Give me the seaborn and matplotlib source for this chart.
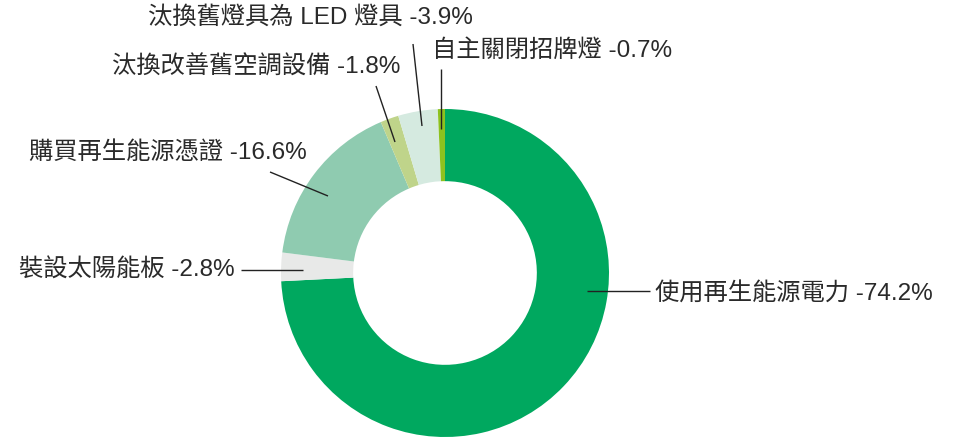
import matplotlib
matplotlib.use("Agg")
import matplotlib.pyplot as plt
import seaborn as sns

# Share of each carbon-reduction measure (%), clockwise from 12 o'clock
categories = ["使用再生能源電力", "裝設太陽能板", "購買再生能源憑證",
              "汰換改善舊空調設備", "汰換舊燈具為 LED 燈具", "自主關閉招牌燈"]
values = [74.2, 2.8, 16.6, 1.8, 3.9, 0.7]
colors = ["#00A85F", "#E8E9E8", "#8FCBB0", "#BFD48A", "#D5EAE0", "#8DC21F"]

sns.set_theme(style="white")
plt.rcParams["font.family"] = ["Liberation Sans", "Noto Sans CJK TC"]

W, H = 955, 439
fig = plt.figure(figsize=(W / 100, H / 100), dpi=100)
ax = fig.add_axes([0, 0, 1, 1])

R = 164
cx, cy = 445, H - 274
ax.pie(values, colors=colors, startangle=90, counterclock=False,
       center=(cx, cy), radius=R,
       wedgeprops=dict(width=R * 0.44, linewidth=0))
ax.set_xlim(0, W)
ax.set_ylim(0, H)
ax.set_aspect("equal")
ax.axis("off")

labels = [f"{c} -{v}%" for c, v in zip(categories, values)]

# (text x, text y, alignment, leader start, leader end) in pixel space from top
layout = [
    (655, 294, "left", (587, 292), (650, 292)),
    (235, 270, "right", (241, 271), (303, 271)),
    (307, 152, "right", (270, 173), (328, 197)),
    (400, 67, "right", (376, 87), (395, 143)),
    (473, 17, "right", (413, 45), (422, 127)),
    (432, 51, "left", (441, 70), (441, 130)),
]

for text, (tx, ty, ha, p0, p1) in zip(labels, layout):
    ax.text(tx, H - ty, text, ha=ha, va="center", fontsize=17.5,
            color="#2a2a2a")
    ax.plot([p0[0], p1[0]], [H - p0[1], H - p1[1]], color="#222222",
            linewidth=1.0, solid_capstyle="butt")

fig.savefig("out.png", dpi=100)
